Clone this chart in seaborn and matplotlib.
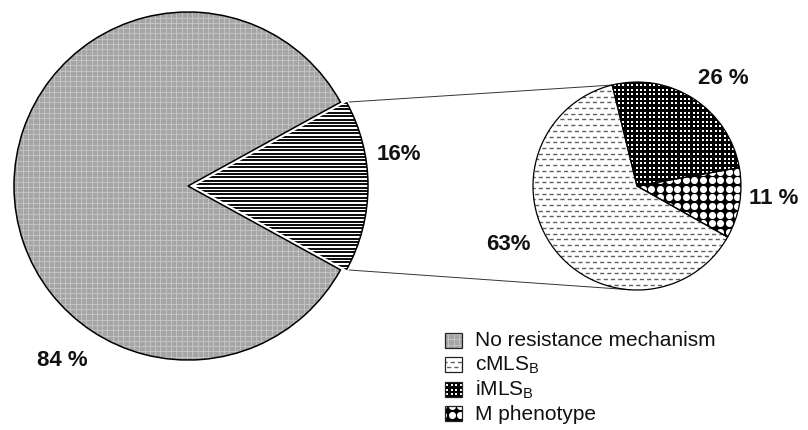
import numpy as np
import matplotlib
matplotlib.use("Agg")
import matplotlib.pyplot as plt
import seaborn as sns
from matplotlib.collections import LineCollection
from matplotlib.patches import Rectangle, Arc

# Share of isolates with / without a resistance mechanism
outer_labels = ["No resistance mechanism", "Resistance mechanism"]
outer_values = [84, 16]
outer_text = ["84 %", "16%"]

# Breakdown of the resistant isolates
inner_labels = ["cMLS$_\\mathregular{B}$", "iMLS$_\\mathregular{B}$", "M phenotype"]
inner_values = [63, 26, 11]
inner_text = ["63%", "26 %", "11 %"]

sns.set_theme(style="white")
plt.rcParams["font.family"] = ["Liberation Sans", "DejaVu Sans"]

W, H = 808, 431
fig = plt.figure(figsize=(W / 100, H / 100), dpi=100)
ax = fig.add_axes([0, 0, 1, 1])

big_c, big_r = (188.0, H - 187.0), 174.0
small_c, small_r = (637.0, H - 187.0), 104.0
shift = 6.0  # pull-out distance of the resistant wedge (data units = pixels)

# ---- main pie -------------------------------------------------------------
big_start = 180 * outer_values[1] / 100.0
big_w, _ = ax.pie(outer_values, center=big_c, radius=big_r, startangle=big_start,
                  explode=[0, shift], colors=["#a5a5a5", "white"],
                  wedgeprops=dict(linewidth=0), frame=True)

# ---- inset pie (drawn counter-clockwise: cMLS, M phenotype, iMLS) ---------
order = [0, 2, 1]
small_w, _ = ax.pie([inner_values[i] for i in order], center=small_c, radius=small_r,
                    startangle=103.8, colors=["white", "black", "black"],
                    wedgeprops=dict(linewidth=0), frame=True)

ax.set_xlim(0, W)
ax.set_ylim(0, H)
ax.axis("off")


def box_of(c, r):
    return (c[0] - r - 2, c[1] - r - 2, c[0] + r + 2, c[1] + r + 2)


def lines(patch, box, step, color, lw, orient="h", dashes=None, offset=0.0, z=2):
    x0, y0, x1, y1 = box
    segs = []
    if "h" in orient:
        segs += [[(x0, y), (x1, y)] for y in np.arange(y0 + offset, y1, step)]
    if "v" in orient:
        segs += [[(x, y0), (x, y1)] for x in np.arange(x0 + offset, x1, step)]
    lc = LineCollection(segs, colors=color, linewidths=lw, zorder=z)
    if dashes is not None:
        lc.set_linestyle(dashes)
    ax.add_collection(lc)
    lc.set_clip_path(patch)


def dots(patch, box, sx, sy, size, marker, color, stagger=False, z=2):
    x0, y0, x1, y1 = box
    X, Y = np.meshgrid(np.arange(x0, x1 + sx, sx), np.arange(y0, y1 + sy, sy))
    if stagger:
        X[1::2] += sx / 2
    sc = ax.scatter(X.ravel(), Y.ravel(), s=size, marker=marker, c=color,
                    linewidths=0, zorder=z)
    sc.set_clip_path(patch)


def tex_none(patch, box, z=2):
    lines(patch, box, 5.3, "#cacaca", 0.55, orient="hv", z=z)


def tex_stripes(patch, box, z=2):
    lines(patch, box, 3.4, "black", 1.35, offset=1.0, z=z)


def tex_cmls(patch, box, z=2):
    lines(patch, box, 11.4, "#606060", 1.0, dashes=(0, (3.0, 2.2)), offset=1.5, z=z)
    lines(patch, box, 11.4, "#606060", 1.0, dashes=(2.6, (3.0, 2.2)), offset=7.2, z=z)


def tex_imls(patch, box, z=2):
    dots(patch, box, 4.4, 4.6, 1.1, "s", "white", z=z)


def tex_m(patch, box, z=2):
    dots(patch, box, 8.6, 8.6, 26, "o", "white", z=z)


ex = big_c[0] + shift
tex_none(big_w[0], box_of(big_c, big_r))
big_w[1].set_zorder(3)
tex_stripes(big_w[1], box_of((ex, big_c[1]), big_r), z=3.5)
small_tex = [tex_cmls, tex_m, tex_imls]
for w, f in zip(small_w, small_tex):
    f(w, box_of(small_c, small_r))

# outlines: black rim on the main slice, white gap and black arc on the wedge
rims, _ = ax.pie(outer_values, center=big_c, radius=big_r, startangle=big_start,
                 explode=[0, shift], colors=["none", "none"],
                 wedgeprops=dict(linewidth=1.1, edgecolor="black", zorder=4), frame=True)
rims[1].set_edgecolor("white")
rims[1].set_linewidth(3.2)
rims[1].set_zorder(2.5)
ax.add_patch(Arc((ex, big_c[1]), 2 * big_r, 2 * big_r, theta1=-big_start, theta2=big_start,
                 color="black", lw=1.1, zorder=5))
ax.pie([inner_values[i] for i in order], center=small_c, radius=small_r,
       startangle=103.8, colors=["none"] * 3,
       wedgeprops=dict(linewidth=0.9, edgecolor="black", zorder=5), frame=True)

# connector lines from the pulled-out wedge to the inset pie
half = np.deg2rad(big_start)
p_top = (ex + big_r * np.cos(half), big_c[1] + big_r * np.sin(half))
p_bot = (ex + big_r * np.cos(-half), big_c[1] + big_r * np.sin(-half))
q_top = (small_c[0] + small_r * np.cos(np.deg2rad(104)), small_c[1] + small_r * np.sin(np.deg2rad(104)))
q_bot = (small_c[0] + small_r * np.cos(np.deg2rad(-94)), small_c[1] + small_r * np.sin(np.deg2rad(-94)))
for p, q in [(p_top, q_top), (p_bot, q_bot)]:
    ax.plot([p[0], q[0]], [p[1], q[1]], color="#333333", lw=0.7, zorder=1)

ax.set_xlim(0, W)
ax.set_ylim(0, H)

# value labels
lab_kw = dict(fontsize=16, fontweight="bold", ha="center", va="center", color="#111111", zorder=6)
ax.text(62, H - 361, outer_text[0], **lab_kw)
ax.text(399, H - 154, outer_text[1], **lab_kw)
ax.text(508, H - 245, inner_text[0], **lab_kw)
ax.text(723, H - 79, inner_text[1], **lab_kw)
ax.text(774, H - 198, inner_text[2], **lab_kw)

# legend
leg_labels = [outer_labels[0]] + inner_labels
leg_fill = ["#a5a5a5", "white", "black", "black"]
leg_tex = [tex_none, tex_cmls, tex_imls, tex_m]
for i, (lab, fc, f) in enumerate(zip(leg_labels, leg_fill, leg_tex)):
    yc = H - (341 + 24.5 * i)
    rect = Rectangle((445, yc - 7.5), 17, 15, facecolor=fc, edgecolor="none", zorder=3)
    ax.add_patch(rect)
    f(rect, (443, yc - 10, 465, yc + 10), z=4)
    ax.add_patch(Rectangle((445, yc - 7.5), 17, 15, facecolor="none",
                           edgecolor="#222222", lw=0.9, zorder=5))
    ax.text(475, yc, lab, fontsize=15, ha="left", va="center", color="#111111")

fig.savefig("out.png", dpi=100)
